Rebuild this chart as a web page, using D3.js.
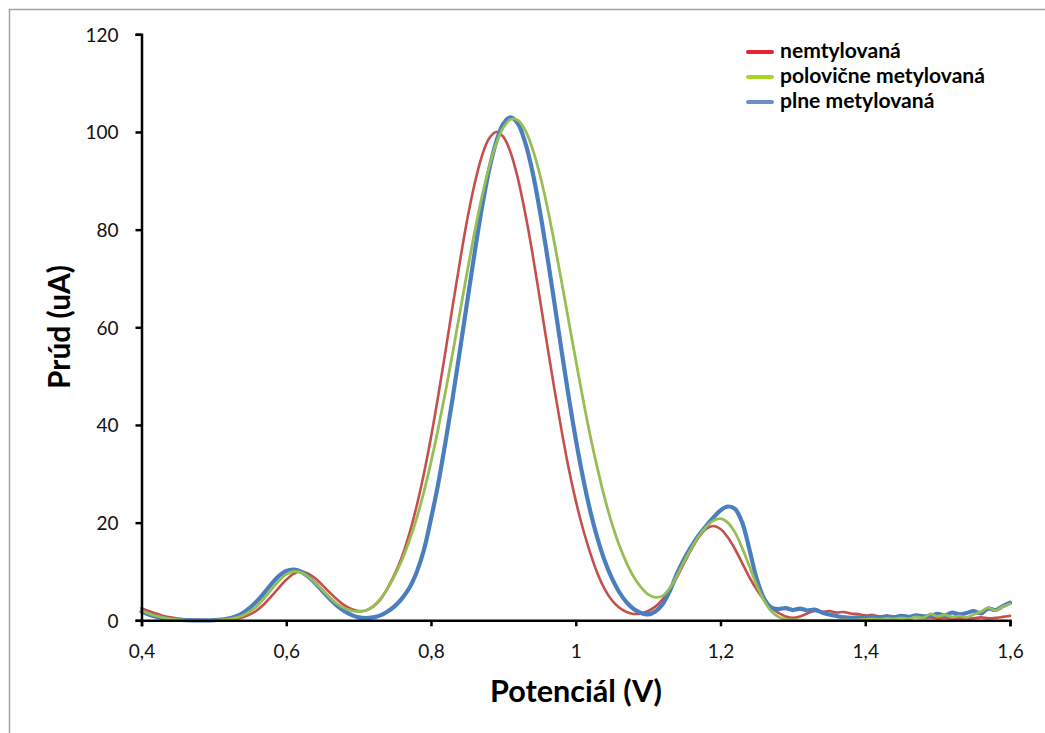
<!DOCTYPE html>
<html><head><meta charset="utf-8">
<script src="https://cdn.jsdelivr.net/npm/d3@7"></script>
<style>html,body{margin:0;padding:0;background:#fff;} svg{display:block;font-family:Lato,"Open Sans",sans-serif;}</style>
</head><body><svg id="chart" width="1045" height="733"></svg>
<script>
const potentials = [
0.40,0.41,0.42,0.43,0.44,0.45,0.46,0.47,0.48,0.49,
0.50,0.51,0.52,0.53,0.54,0.55,0.56,0.57,0.58,0.59,
0.60,0.61,0.62,0.63,0.64,0.65,0.66,0.67,0.68,0.69,
0.70,0.71,0.72,0.73,0.74,0.75,0.76,0.77,0.78,0.79,
0.80,0.81,0.82,0.83,0.84,0.85,0.86,0.87,0.88,0.89,
0.90,0.91,0.92,0.93,0.94,0.95,0.96,0.97,0.98,0.99,
1.00,1.01,1.02,1.03,1.04,1.05,1.06,1.07,1.08,1.09,
1.10,1.11,1.12,1.13,1.14,1.15,1.16,1.17,1.18,1.19,
1.20,1.21,1.22,1.23,1.24,1.25,1.26,1.27,1.28,1.29,
1.30,1.31,1.32,1.33,1.34,1.35,1.36,1.37,1.38,1.39,
1.40,1.41,1.42,1.43,1.44,1.45,1.46,1.47,1.48,1.49,
1.50,1.51,1.52,1.53,1.54,1.55,1.56,1.57,1.58,1.59,
1.60];
const nemtylovana = [
2.5,1.9,1.4,0.9,0.6,0.35,0.2,0.1,0.05,0,
0,0.05,0.1,0.3,0.6,1.2,2.1,3.4,5.0,6.7,
8.3,9.5,10.0,9.6,8.6,7.2,5.7,4.3,3.1,2.3,
1.9,2.0,2.8,4.2,6.6,9.5,13.1,17.7,23.3,29.9,
37.5,46.0,55.1,64.4,73.5,82.0,89.2,94.9,98.6,100.0,
99.0,95.8,90.5,83.5,75.3,66.2,56.9,47.8,39.2,31.3,
24.5,18.7,13.8,9.6,6.4,4.1,2.6,1.7,1.3,1.4,
1.9,2.8,4.3,6.4,8.9,11.8,14.6,17.0,18.7,19.3,
18.7,17.0,14.6,11.7,8.8,6.3,4.2,2.6,1.5,0.8,
0.5,0.8,1.4,1.9,1.7,1.9,1.6,1.7,1.4,1.3,
1.0,1.1,0.8,0.9,0.7,0.8,0.6,0.7,0.5,0.6,
0.4,0.5,0.3,0.4,0.3,0.4,0.6,0.4,0.5,0.7,
0.9];
const polovicneMetylovana = [
2.0,1.4,0.9,0.55,0.3,0.15,0.05,0,0,0,
0,0.1,0.2,0.5,1.0,1.8,3.0,4.6,6.4,8.1,
9.4,10.0,9.8,9.0,7.7,6.2,4.7,3.4,2.5,2.0,
1.8,2.0,2.9,4.4,6.5,9.2,12.4,16.3,20.8,26.2,
32.4,39.3,46.8,54.8,63.1,71.4,79.3,86.5,92.7,97.6,
100.9,102.6,102.4,100.4,96.7,91.5,85.1,77.7,69.7,61.5,
53.3,45.3,37.8,31.1,25.0,19.8,15.4,11.8,8.9,6.8,
5.3,4.7,5.0,6.6,9.2,12.1,14.8,17.2,19.1,20.4,
20.8,20.0,18.0,14.8,11.0,7.2,4.1,1.9,0.7,0.2,
0.1,0.05,0,0,0,0.05,0,0.1,0.05,0.1,
0.2,0.3,0.2,0.4,0.3,0.5,0.3,0.7,0.5,1.3,
0.8,1.1,0.7,0.9,0.6,1.2,1.8,2.6,2.0,2.8,
3.4];
const plneMetylovana = [
1.8,1.2,0.75,0.45,0.25,0.1,0.05,0,0,0,
0.05,0.15,0.35,0.8,1.5,2.6,4.0,5.7,7.5,9.1,
10.1,10.4,10.0,9.0,7.6,6.0,4.4,3.0,1.9,1.1,
0.6,0.45,0.6,1.0,1.8,2.9,4.5,6.6,9.8,14.3,
20.8,28.0,36.5,45.6,55.3,65.2,75.0,84.2,92.0,97.9,
101.7,103.0,101.7,97.9,92.0,84.2,75.2,65.5,55.6,46.0,
37.1,29.2,22.4,16.8,12.2,8.6,5.8,3.7,2.3,1.5,
1.2,1.8,3.3,6.0,9.6,12.6,15.2,17.4,19.3,21.0,
22.5,23.3,22.8,20.0,14.5,8.5,4.5,2.6,2.3,2.5,
2.1,2.4,2.0,2.2,1.6,1.2,0.9,0.6,0.5,0.6,
0.4,0.7,0.5,0.8,0.6,0.9,0.7,1.0,0.8,0.9,
1.3,1.0,1.6,1.2,1.5,1.9,1.4,2.4,2.1,2.9,
3.6];
const seriesNames = ["nemtylovaná", "polovične metylovaná", "plne metylovaná"];
const xTickValues = [0.4, 0.6, 0.8, 1, 1.2, 1.4, 1.6];
const xTickLabels = ["0,4", "0,6", "0,8", "1", "1,2", "1,4", "1,6"];
const yTickValues = [0, 20, 40, 60, 80, 100, 120];
const yTickLabels = ["0", "20", "40", "60", "80", "100", "120"];
const xTitle = "Potenciál (V)";
const yTitle = "Prúd (uA)";

const svg = d3.select("#chart");

// outer frame (only left and top edges visible)
svg.append("path").attr("d", "M9.5,733V9.5H1045").attr("fill", "none")
  .attr("stroke", "#a3a3a3").attr("stroke-width", 1.5);

const x = d3.scaleLinear().domain([0.4, 1.6]).range([141.5, 1010]);
const y = d3.scaleLinear().domain([0, 120]).range([620.3, 34.3]);

const series = [
  {name: seriesNames[0], values: nemtylovana, color: "#c4504e", width: 2.6, legend: "#e5262c"},
  {name: seriesNames[1], values: polovicneMetylovana, color: "#97be55", width: 2.8, legend: "#a8d424"},
  {name: seriesNames[2], values: plneMetylovana, color: "#4a7ebf", width: 4.2, legend: "#6e8fc3"}
];

// lines (red, blue, then green on top)
const line = d3.line()
  .x((d, i) => x(potentials[i]))
  .y(d => y(d))
  .curve(d3.curveCatmullRom.alpha(0.5));
[series[0], series[2], series[1]].forEach(s => {
  svg.append("path").attr("d", line(s.values)).attr("fill", "none")
    .attr("stroke", s.color).attr("stroke-width", s.width)
    .attr("stroke-linejoin", "round").attr("stroke-linecap", "round");
});

// axes
const yAxis = svg.append("g").attr("transform", `translate(${x(0.4)},0)`)
  .call(d3.axisLeft(y).tickValues(yTickValues).tickFormat((d, i) => yTickLabels[i])
    .tickSize(6).tickSizeOuter(6).tickPadding(17));
const xAxis = svg.append("g").attr("transform", `translate(0,${y(0)})`)
  .call(d3.axisBottom(x).tickValues(xTickValues).tickFormat((d, i) => xTickLabels[i])
    .tickSize(6).tickSizeOuter(6));
[xAxis, yAxis].forEach(g => {
  g.select(".domain").attr("stroke", "#000").attr("stroke-width", 2.5);
  g.selectAll(".tick line").attr("stroke", "#000").attr("stroke-width", 2.5);
  g.selectAll("text").attr("font-family", "Lato, 'Open Sans', sans-serif")
    .attr("font-size", 19).attr("fill", "#111");
});
xAxis.selectAll(".tick text").attr("y", 38).attr("dy", 0);
yAxis.selectAll(".tick text").attr("dy", "0.36em");

function fitWidth(sel, target) {
  const w = sel.node().getComputedTextLength();
  const fs = parseFloat(sel.attr("font-size"));
  const nfs = fs * target / w;
  sel.attr("font-size", nfs);
  return nfs;
}

// titles
const xt = svg.append("text").attr("x", 576).attr("y", 702).attr("text-anchor", "middle")
  .attr("font-weight", "bold").attr("font-size", 28).attr("fill", "#000").text(xTitle);
fitWidth(xt, 172);
const yt = svg.append("text").attr("transform", "translate(70,327) rotate(-90)")
  .attr("text-anchor", "middle").attr("font-weight", "bold").attr("font-size", 28)
  .attr("fill", "#000").text(yTitle);
fitWidth(yt, 124);

// legend
const legendY = [52, 77, 102];
const legend = svg.append("g");
const lt = [];
series.forEach((s, i) => {
  legend.append("line").attr("x1", 748).attr("x2", 772)
    .attr("y1", legendY[i]).attr("y2", legendY[i])
    .attr("stroke", s.legend).attr("stroke-width", 4).attr("stroke-linecap", "round");
  lt.push(legend.append("text").attr("x", 780).attr("y", legendY[i] + 6)
    .attr("font-weight", "bold").attr("font-size", 20).attr("fill", "#000").text(s.name));
});
const lfs = fitWidth(lt[1], 205);
lt.forEach(t => t.attr("font-size", lfs));
</script>
</body></html>
